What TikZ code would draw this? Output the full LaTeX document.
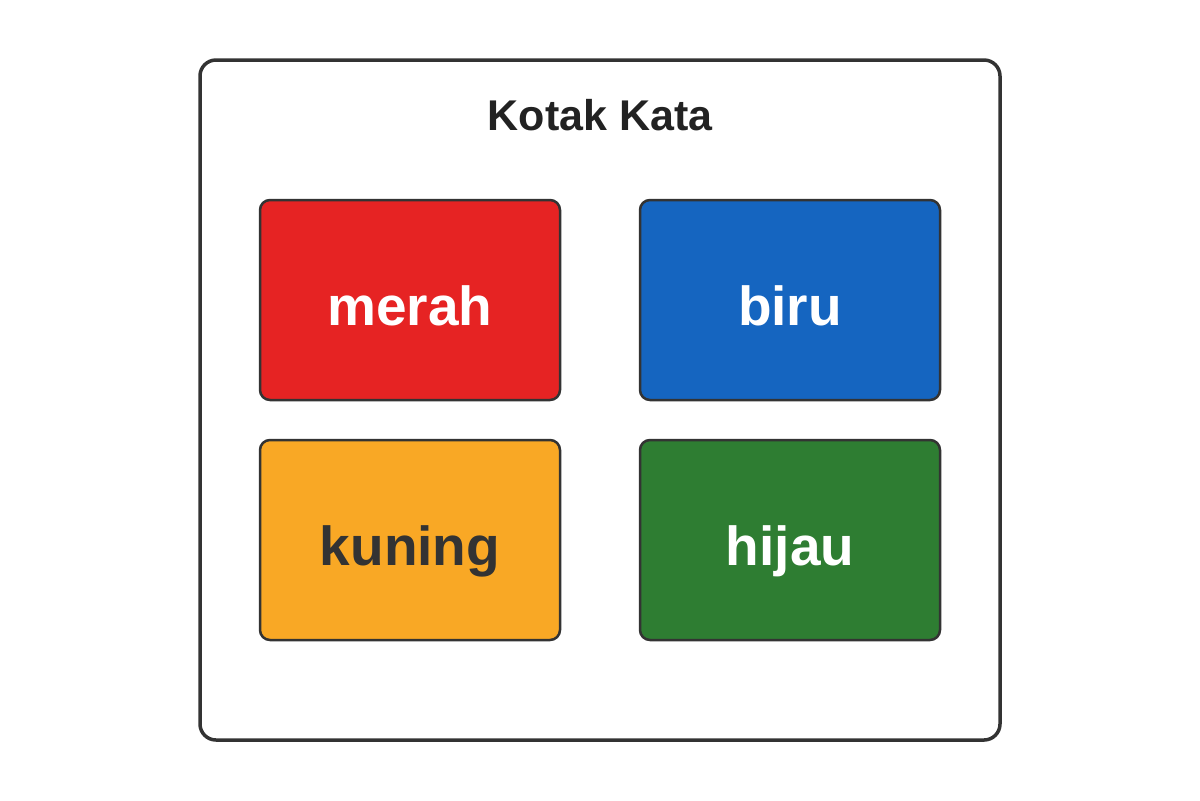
\documentclass[tikz,border=0pt]{standalone}
\usepackage{fontspec}
\setmainfont{Liberation Sans}
\usepackage{tikz}
\usetikzlibrary{positioning}

\definecolor{garis}{HTML}{333333}
\definecolor{tinta}{HTML}{222222}
\definecolor{warnamerah}{HTML}{E62323}
\definecolor{warnabiru}{HTML}{1565C0}
\definecolor{warnakuning}{HTML}{F9A825}
\definecolor{warnahijau}{HTML}{2E7D32}

\tikzset{
  kotakkata/.style={draw=garis, line width=1.25pt, rounded corners=5pt,
    minimum width=150pt, minimum height=100pt, inner sep=0pt,
    text height=25pt, text depth=0pt,
    font=\fontsize{27.5}{32}\selectfont\bfseries, text=white},
}

\begin{document}
\begin{tikzpicture}[x=0.5pt, y=-0.5pt]

    \fill[white] (0,0) rectangle (1200,800);
    \useasboundingbox (0,0) rectangle (1200,800);

    \draw[garis, line width=1.75pt, rounded corners=8pt, fill=white]
      (200,60) rectangle (1000,740);

    \node[text=tinta, font=\fontsize{21.5}{26}\selectfont\bfseries]
      (judul) at (600,115) {Kotak Kata};

    \node[kotakkata, fill=warnamerah] (merah) at (410,300) {merah};
    \node[kotakkata, fill=warnabiru, right=38.75pt of merah] (biru) {biru};
    \node[kotakkata, fill=warnakuning, text=garis, below=18.75pt of merah] (kuning) {kuning};
    \node[kotakkata, fill=warnahijau, right=38.75pt of kuning] (hijau) {hijau};

  \end{tikzpicture}
\end{document}
